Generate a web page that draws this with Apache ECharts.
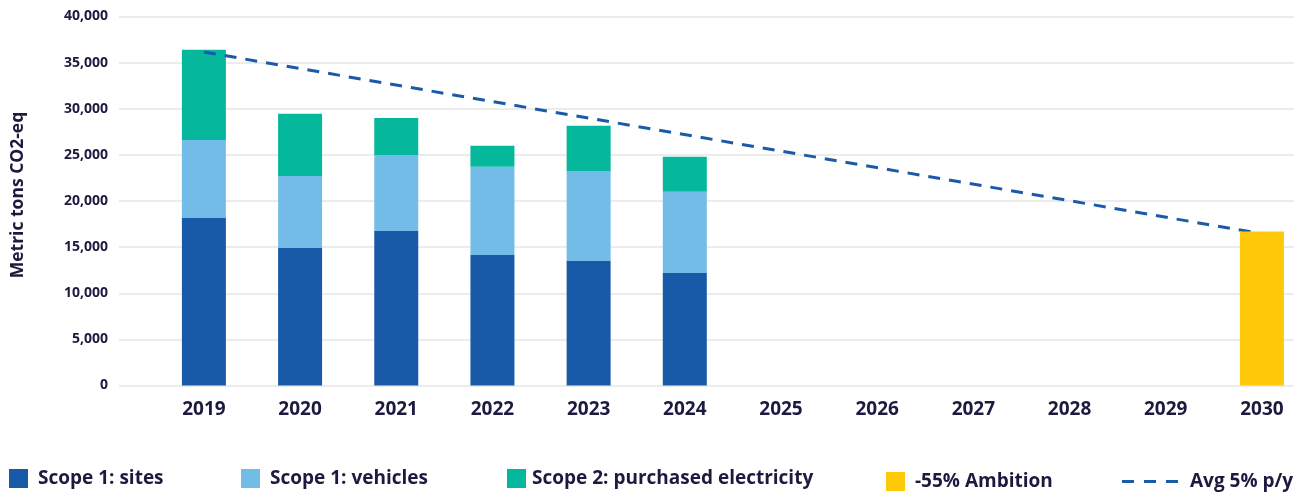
<!DOCTYPE html>
<html>
<head>
<meta charset="utf-8">
<script src="https://cdn.jsdelivr.net/npm/echarts@6/dist/echarts.min.js"></script>
<style>
  html, body { margin: 0; padding: 0; background: #ffffff; }
  #chart { width: 1310px; height: 497px; }
</style>
</head>
<body>
<div id="chart"></div>
<script>
// Emissions by year (metric tons CO2-eq)
const years = ['2019', '2020', '2021', '2022', '2023', '2024', '2025', '2026', '2027', '2028', '2029', '2030'];
const scope1Sites = [18150, 14900, 16750, 14150, 13500, 12200, null, null, null, null, null, null];
const scope1Vehicles = [8450, 7800, 8250, 9550, 9750, 8800, null, null, null, null, null, null];
const scope2Electricity = [9800, 6750, 4000, 2300, 4900, 3800, null, null, null, null, null, null];
const ambition2030 = [null, null, null, null, null, null, null, null, null, null, null, 16700];
// Reduction path: start and end points, joined by a straight dashed line
const avgPath = [36150, null, null, null, null, null, null, null, null, null, null, 16450];
const yTicks = { min: 0, max: 40000, interval: 5000 };

const names = {
  sites: 'Scope 1: sites',
  vehicles: 'Scope 1: vehicles',
  elec: 'Scope 2: purchased electricity',
  amb: '-55% Ambition',
  avg: 'Avg 5% p/y'
};

const ink = '#1c1a3e';
const font = '"Open Sans", "Noto Sans", sans-serif';
const colors = {
  sites: '#185aa8',
  vehicles: '#74bce8',
  elec: '#05b89c',
  amb: '#ffc90a',
  avg: '#1a5aa8'
};

// Three short dashes for the reduction-path legend key
const dashIcon = 'path://M0,0h12v3h-12z M22,0h12v3h-12z M44,0h12v3h-12z';

const chart = echarts.init(document.getElementById('chart'), null, { renderer: 'canvas' });

const legendText = { color: ink, fontFamily: font, fontWeight: 'bold', fontSize: 19, padding: [3, 0, 0, 5] };

function legendAt(name, left, extra) {
  return Object.assign({
    data: [{ name: name, icon: 'rect' }],
    left: left,
    top: 469,
    itemWidth: 19,
    itemHeight: 19,
    itemGap: 0,
    padding: 0,
    selectedMode: false,
    textStyle: legendText
  }, extra || {});
}

const option = {
  backgroundColor: '#ffffff',
  animation: false,
  textStyle: { fontFamily: font },
  grid: [
    { left: 119, right: 16, top: 16.5, bottom: 111.5 },
    // year bands run slightly past the right edge of the gridlines
    { left: 155.8, width: 1157.4, top: 16.5, bottom: 111.5 }
  ],
  legend: [
    legendAt(names.sites, 9),
    legendAt(names.vehicles, 241),
    legendAt(names.elec, 507, { textStyle: Object.assign({}, legendText, { padding: [3, 0, 0, 1] }) }),
    legendAt(names.amb, 886, { top: 472 }),
    legendAt(names.avg, 1122, {
      data: [{ name: names.avg, icon: dashIcon, itemStyle: { color: colors.avg } }],
      top: 472,
      itemWidth: 56,
      itemHeight: 3,
      textStyle: Object.assign({}, legendText, { padding: [3, 0, 0, 7] })
    })
  ],
  xAxis: [
    { gridIndex: 0, type: 'value', show: false, min: 0, max: 1 },
    {
      gridIndex: 1,
      type: 'category',
      data: years,
      boundaryGap: true,
      axisLine: { show: false },
      axisTick: { show: false },
      axisLabel: { color: ink, fontFamily: font, fontWeight: 'bold', fontSize: 19, margin: 15 }
    }
  ],
  yAxis: [
    {
      gridIndex: 0,
      type: 'value',
      min: yTicks.min,
      max: yTicks.max,
      interval: yTicks.interval,
      name: 'Metric tons CO2-eq',
      nameLocation: 'middle',
      nameGap: 92,
      nameRotate: 90,
      nameTextStyle: { color: ink, fontFamily: font, fontWeight: 'bold', fontSize: 17.5, padding: [0, 0, 0, 12] },
      axisLine: { show: false },
      axisTick: { show: false },
      axisLabel: {
        color: ink, fontFamily: font, fontWeight: 'bold', fontSize: 14, margin: 11,
        formatter: v => v.toLocaleString('en-US')
      },
      splitLine: { lineStyle: { color: '#e6e6e6', width: 1.5 } }
    },
    {
      gridIndex: 1,
      type: 'value',
      min: yTicks.min,
      max: yTicks.max,
      interval: yTicks.interval,
      show: false,
      splitLine: { show: false }
    }
  ],
  series: [
    {
      name: names.sites, type: 'bar', stack: 'total', xAxisIndex: 1, yAxisIndex: 1, z: 2,
      barWidth: 44, data: scope1Sites, itemStyle: { color: colors.sites }
    },
    {
      name: names.vehicles, type: 'bar', stack: 'total', xAxisIndex: 1, yAxisIndex: 1, z: 2,
      barWidth: 44, data: scope1Vehicles, itemStyle: { color: colors.vehicles }
    },
    {
      name: names.elec, type: 'bar', stack: 'total', xAxisIndex: 1, yAxisIndex: 1, z: 2,
      barWidth: 44, data: scope2Electricity, itemStyle: { color: colors.elec }
    },
    {
      name: names.amb, type: 'bar', stack: 'total', xAxisIndex: 1, yAxisIndex: 1, z: 6,
      barWidth: 44, data: ambition2030, itemStyle: { color: colors.amb }
    },
    {
      name: names.avg, type: 'line', xAxisIndex: 1, yAxisIndex: 1,
      data: avgPath, connectNulls: true, symbol: 'none', z: 5,
      itemStyle: { color: colors.avg },
      lineStyle: { color: colors.avg, width: 3, type: [12, 9] }
    }
  ]
};

chart.setOption(option);
</script>
</body>
</html>
